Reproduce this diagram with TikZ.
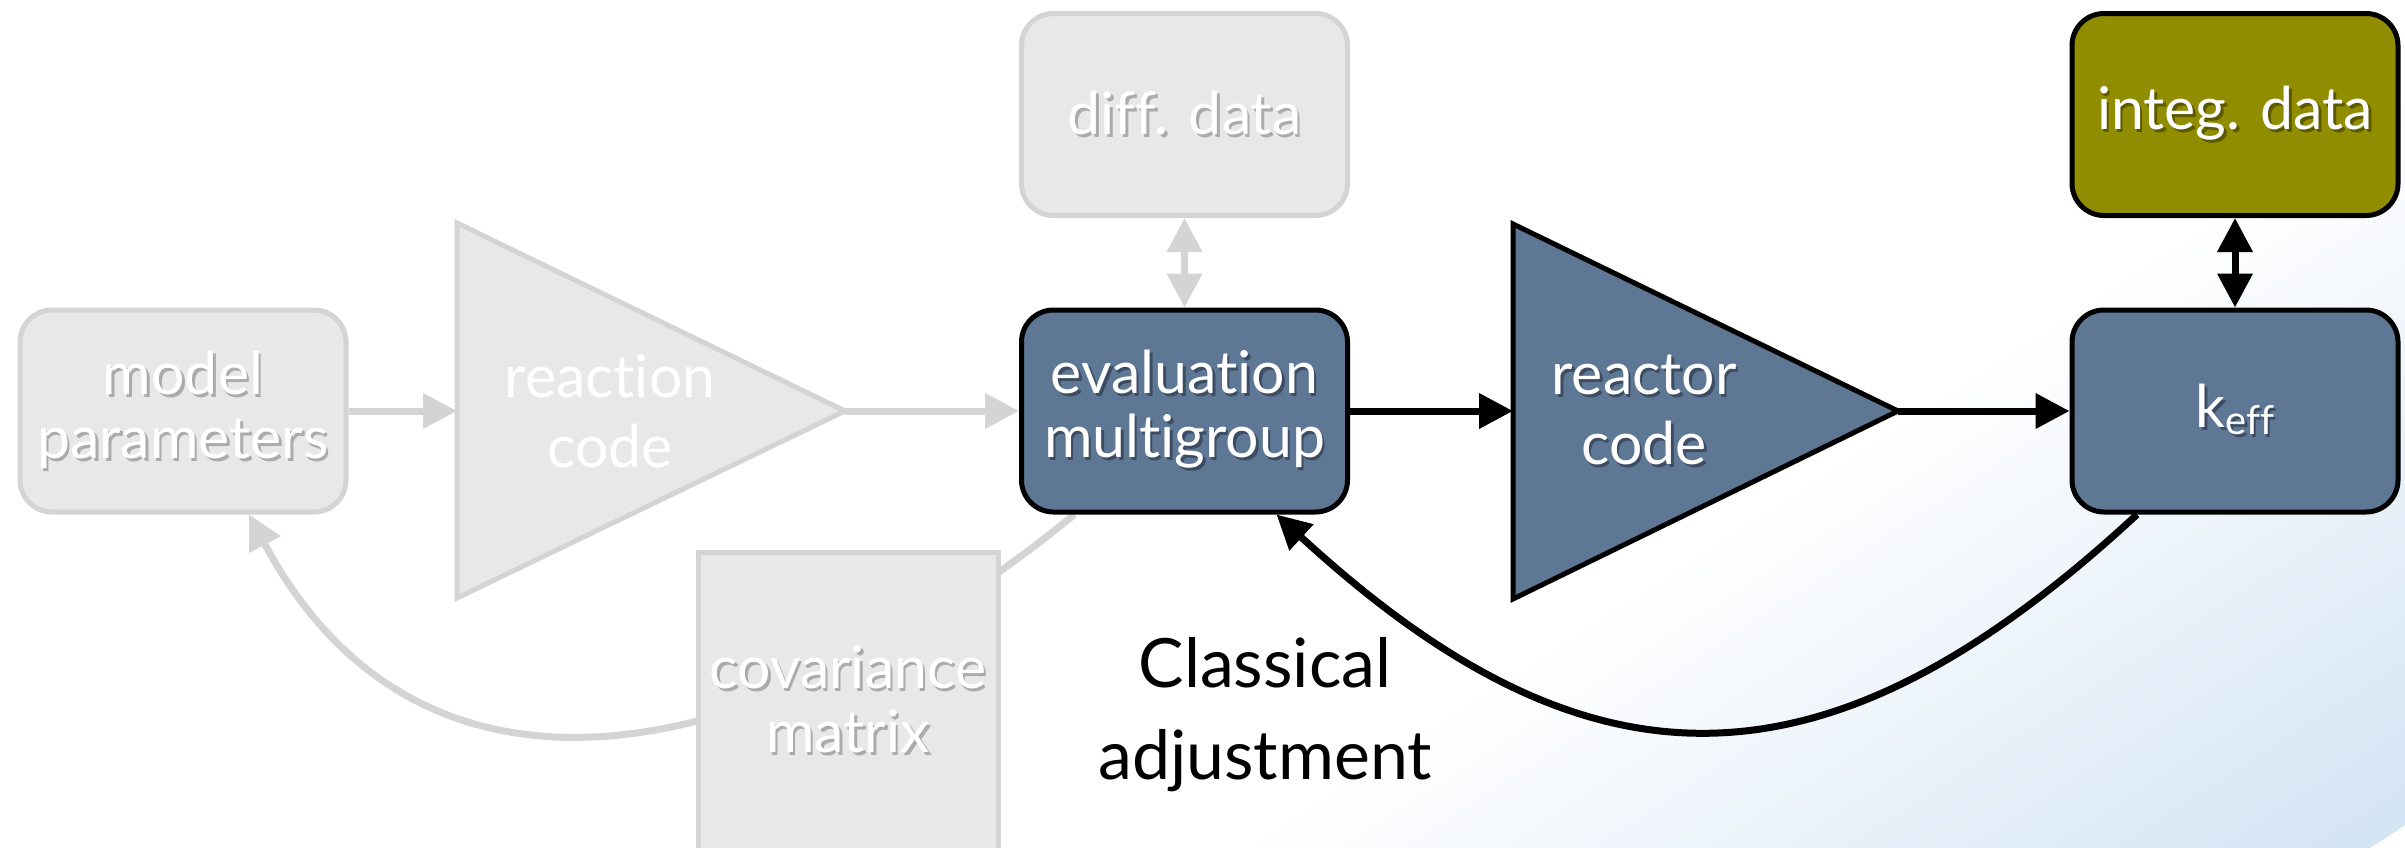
\documentclass[tikz,border=0pt]{standalone}
\usepackage{fontspec}
\setmainfont{Lato}[Ligatures={NoCommon}]
\usetikzlibrary{arrows.meta}

\definecolor{bgblue}{HTML}{D3E4F4}
\definecolor{boxgray}{HTML}{E8E8E8}
\definecolor{linegray}{HTML}{D4D4D4}
\definecolor{slate}{HTML}{5E7794}
\definecolor{olive}{HTML}{918D00}
\definecolor{shgray}{HTML}{ABABAB}
\definecolor{shslate}{HTML}{3C4D63}
\definecolor{sholive}{HTML}{5C5900}

\pgfdeclarelayer{bglayer}
\pgfdeclarelayer{edgelayer}
\pgfsetlayers{bglayer,edgelayer,main}

% white text with a dark drop shadow behind it
\newcommand\shd[2]{\makebox[0pt][l]{\kern2.5pt\raisebox{-3pt}{\textcolor{#1}{#2}}}#2}

\tikzset{
  boxbase/.style={rounded corners=32pt, minimum width=326pt, minimum height=202pt,
    inner sep=0pt, align=center, text=white, font=\fontsize{59}{64}\selectfont, line width=5pt},
  greybox/.style={boxbase, fill=boxgray, draw=linegray},
  slatebox/.style={boxbase, fill=slate, draw=black},
  olivebox/.style={boxbase, fill=olive, draw=black},
  tritext/.style={align=center, text=white, inner sep=0pt, font=\fontsize{59}{70}\selectfont},
  greytri/.style={fill=boxgray, draw=linegray, line width=5pt},
  slatetri/.style={fill=slate, draw=black, line width=5pt},
  greyarrow/.style={draw=linegray, line width=7pt, -{Triangle[length=34pt,width=34pt]}},
  greydbl/.style={draw=linegray, line width=7pt, {Triangle[length=34pt,width=34pt]}-{Triangle[length=34pt,width=34pt]}},
  blackarrow/.style={draw=black, line width=7pt, -{Triangle[length=34pt,width=34pt]}},
  blackdbl/.style={draw=black, line width=7pt, {Triangle[length=34pt,width=34pt]}-{Triangle[length=34pt,width=34pt]}},
}

\begin{document}
\begin{tikzpicture}[x=1pt, y=-1pt]
\useasboundingbox (0,0) rectangle (2405,847);

% background: white with a pale blue wash towards the lower right
\begin{pgfonlayer}{bglayer}
  \fill[white] (0,0) rectangle (2405,847);
  \begin{scope}
    \clip (0,0) rectangle (2405,847);
    \begin{scope}[transform canvas={rotate around={-57.1:(1230,847)}}]
      \shade[left color=white, right color=bgblue] (1230,-800) rectangle (1850,2500);
    \end{scope}
  \end{scope}
\end{pgfonlayer}

\clip (0,0) rectangle (2405,847);

% triangles (codes)
\draw[greytri] (457,223) -- (845,411) -- (457,598) -- cycle;
\coordinate (rcL) at (457,411);
\coordinate (rcTip) at (845,411);
\node[tritext] (rc) at (610,411) {reaction\\code};

\draw[slatetri] (1513,224) -- (1898,411) -- (1513,599) -- cycle;
\coordinate (rxL) at (1513,411);
\coordinate (rxTip) at (1898,411);
\node[tritext] (rx) at (1644,411) {\shd{shslate}{reactor}\\\shd{shslate}{code}};

% boxes
\node[greybox] (mp) at (183,411) {\shd{shgray}{model}\\\shd{shgray}{parameters}};
\node[greybox] (dd) at (1184.5,114.5) {\shd{shgray}{diff. data}};
\node[slatebox] (ev) at (1184.5,411) {\shd{shslate}{evaluation}\\\shd{shslate}{multigroup}};
\node[olivebox] (ig) at (2235,114.5) {\shd{sholive}{integ. data}};
\node[slatebox] (ke) at (2235,411) {\shd{shslate}{k\raisebox{-7pt}{\fontsize{40}{40}\selectfont eff}}};
\node[greybox, rounded corners=0pt, minimum width=300pt, minimum height=298pt] (cv) at (848,701)
  {\shd{shgray}{covariance}\\\shd{shgray}{matrix}};

\node[align=center, inner sep=0pt, font=\fontsize{68}{92}\selectfont] (ca) at (1265,715)
  {Classical\\adjustment};

% connectors
\begin{pgfonlayer}{edgelayer}
  \draw[greyarrow] (mp.east) -- (rcL);
  \draw[greyarrow] (rcTip) -- (ev.west);
  \draw[greydbl] (dd.south) -- (ev.north);
  \draw[greyarrow] ([xshift=-110pt]ev.south) .. controls +(-326,265) and +(169,317) .. ([xshift=66pt]mp.south);
  \draw[blackarrow] (ev.east) -- (rxL);
  \draw[blackarrow] (rxTip) -- (ke.west);
  \draw[blackdbl] (ig.south) -- (ke.north);
  \draw[blackarrow] ([xshift=-98pt]ke.south) .. controls +(-312,289) and +(312,287) .. ([xshift=92pt]ev.south);
\end{pgfonlayer}
\end{tikzpicture}
\end{document}
